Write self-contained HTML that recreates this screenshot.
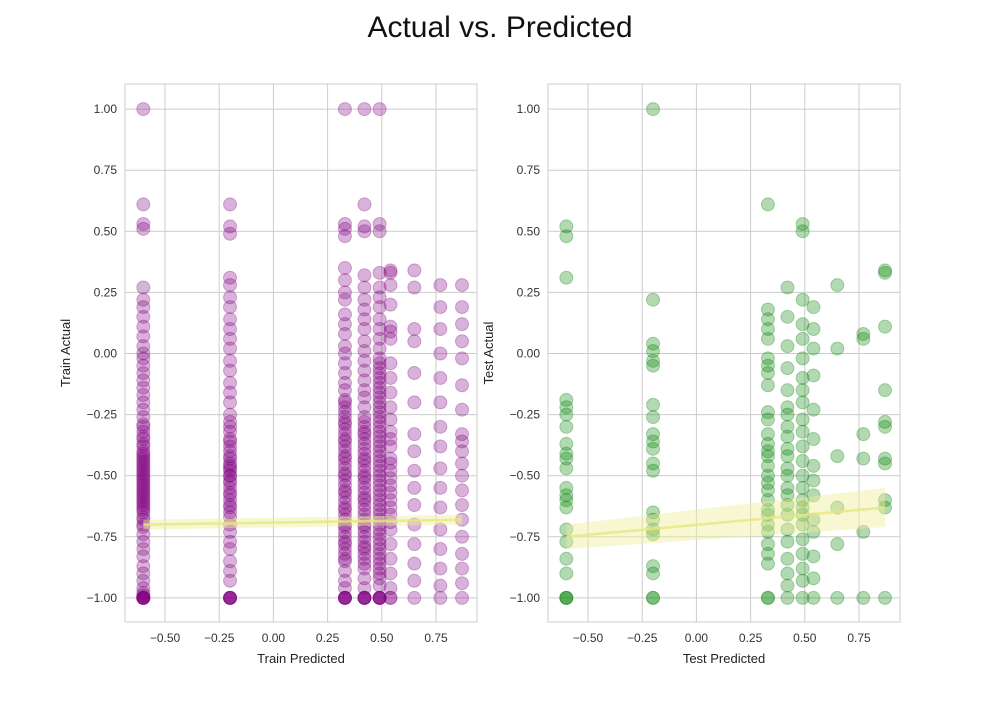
<!DOCTYPE html>
<html><head><meta charset="utf-8"><style>
body{margin:0;background:#fff;font-family:"Liberation Sans",sans-serif}
</style></head><body>
<svg id="c" width="1000" height="700" xmlns="http://www.w3.org/2000/svg" style="font-family:'Liberation Sans',sans-serif">
<text x="500" y="37" font-size="30" text-anchor="middle" fill="#111">Actual vs. Predicted</text>
</svg>
<script>
const xTicks=[-0.5,-0.25,0,0.25,0.5,0.75];
const yTicks=[1,0.75,0.5,0.25,0,-0.25,-0.5,-0.75,-1];
const tickLabels=["1.00","0.75","0.50","0.25","0.00","−0.25","−0.50","−0.75","−1.00"];
const xTickLabels=["−0.50","−0.25","0.00","0.25","0.50","0.75"];
const trainCols=[-0.6,-0.2,0.33,0.42,0.49,0.54,0.65,0.77,0.87];
const trainVals=[
[1,0.61,0.53,0.51,0.27,0.22,0.19,0.15,0.11,0.07,0.03,0,-0.02,-0.05,-0.08,-0.11,-0.14,-0.17,-0.2,-0.23,-0.26,-0.29,-0.32,-0.35,-0.38,-0.41,-0.44,-0.47,-0.5,-0.53,-0.56,-0.59,-0.62,-0.65,-0.68,-0.71,-0.74,-0.77,-0.8,-0.83,-0.87,-0.9,-0.93,-0.96,-1,-1,-1,-0.3,-0.34,-0.37,-0.4,-0.43,-0.46,-0.49,-0.52,-0.55,-0.58,-0.61,-0.64,-0.67,-0.7,-0.42,-0.45,-0.48,-0.51,-0.54,-0.57,-0.6,-0.63,-1,-1,-1,-0.99,-0.98],
[0.61,0.52,0.49,0.31,0.28,0.23,0.19,0.14,0.1,0.06,0.02,-0.03,-0.07,-0.12,-0.16,-0.2,-0.25,-0.28,-0.32,-0.36,-0.4,-0.43,-0.46,-0.5,-0.53,-0.57,-0.6,-0.63,-0.67,-0.7,-0.73,-0.77,-0.8,-0.85,-0.89,-0.93,-1,-1,-0.38,-0.42,-0.45,-0.48,-0.52,-0.55,-0.58,-0.62,-0.65,-0.3,-0.35,-0.5,-0.47,-1,-1,-1],
[1,0.53,0.51,0.48,0.35,0.3,0.25,0.22,0.16,0.12,0.08,0.03,0,-0.04,-0.08,-0.12,-0.15,-0.19,-0.22,-0.26,-0.29,-0.33,-0.36,-0.4,-0.43,-0.47,-0.5,-0.54,-0.57,-0.61,-0.64,-0.68,-0.71,-0.75,-0.78,-0.82,-0.85,-0.89,-0.93,-0.96,-1,-1,-0.28,-0.31,-0.35,-0.38,-0.42,-0.45,-0.49,-0.52,-0.56,-0.59,-0.63,-0.66,-0.7,-0.73,-0.77,-0.8,-0.84,-0.2,-0.24,-1,-1,-1],
[1,0.61,0.52,0.5,0.32,0.27,0.22,0.18,0.14,0.1,0.05,0.01,-0.03,-0.07,-0.11,-0.15,-0.18,-0.22,-0.26,-0.3,-0.33,-0.37,-0.41,-0.44,-0.48,-0.51,-0.55,-0.59,-0.62,-0.66,-0.7,-0.73,-0.77,-0.8,-0.84,-0.88,-0.92,-0.96,-1,-1,-0.28,-0.32,-0.35,-0.39,-0.43,-0.46,-0.5,-0.53,-0.57,-0.6,-0.64,-0.68,-0.71,-0.75,-0.79,-0.82,-0.86,-1,-1,-1],
[1,0.53,0.5,0.33,0.27,0.23,0.19,0.14,0.1,0.06,0.02,-0.02,-0.06,-0.1,-0.14,-0.18,-0.22,-0.26,-0.3,-0.34,-0.38,-0.42,-0.46,-0.5,-0.54,-0.58,-0.62,-0.66,-0.7,-0.74,-0.78,-0.82,-0.86,-0.9,-0.95,-1,-1,-0.04,-0.08,-0.12,-0.16,-0.2,-0.24,-0.28,-0.32,-0.36,-0.4,-0.44,-0.48,-0.52,-0.56,-0.6,-0.64,-0.68,-0.72,-0.76,-0.8,-0.84,-0.88,-0.92,-1,-1,-1],
[0.34,0.33,0.28,0.2,0.11,0.09,0.06,-0.04,-0.1,-0.16,-0.22,-0.27,-0.32,-0.38,-0.43,-0.48,-0.54,-0.6,-0.66,-0.72,-0.78,-0.84,-0.9,-0.96,-1,-0.35,-0.45,-0.51,-0.57,-0.63,-0.69,-1],
[0.34,0.27,0.1,0.05,-0.08,-0.2,-0.33,-0.4,-0.48,-0.55,-0.62,-0.7,-0.78,-0.86,-0.93,-1],
[0.28,0.19,0.1,0,-0.1,-0.2,-0.3,-0.38,-0.47,-0.55,-0.63,-0.72,-0.8,-0.88,-0.95,-1],
[0.28,0.19,0.12,0.05,-0.02,-0.13,-0.23,-0.33,-0.36,-0.4,-0.45,-0.5,-0.56,-0.62,-0.68,-0.75,-0.82,-0.88,-0.94,-1]];
const testCols=[-0.6,-0.2,0.33,0.42,0.49,0.54,0.65,0.77,0.87];
const testVals=[
[0.52,0.48,0.31,-0.19,-0.22,-0.25,-0.3,-0.37,-0.41,-0.43,-0.47,-0.55,-0.58,-0.6,-0.63,-0.72,-0.77,-0.84,-0.9,-1,-1,-1],
[1,0.22,0.04,0.01,-0.03,-0.05,-0.21,-0.26,-0.33,-0.36,-0.39,-0.45,-0.48,-0.65,-0.68,-0.72,-0.74,-0.87,-0.9,-1,-1],
[0.61,0.18,0.14,0.1,0.06,-0.02,-0.05,-0.08,-0.13,-0.24,-0.27,-0.33,-0.37,-0.4,-0.42,-0.46,-0.5,-0.53,-0.56,-0.6,-0.64,-0.66,-0.7,-0.73,-0.78,-0.82,-0.86,-1,-1],
[0.27,0.15,0.03,-0.06,-0.15,-0.22,-0.25,-0.3,-0.34,-0.39,-0.42,-0.47,-0.5,-0.55,-0.58,-0.62,-0.66,-0.72,-0.77,-0.84,-0.9,-0.95,-1],
[0.53,0.5,0.22,0.12,0.06,-0.02,-0.1,-0.15,-0.2,-0.27,-0.32,-0.38,-0.44,-0.5,-0.55,-0.6,-0.63,-0.66,-0.7,-0.76,-0.82,-0.88,-0.93,-1],
[0.19,0.1,0.02,-0.09,-0.23,-0.35,-0.46,-0.52,-0.58,-0.68,-0.73,-0.83,-0.92,-1],
[0.28,0.02,-0.42,-0.63,-0.78,-1],
[0.08,0.06,-0.33,-0.43,-0.73,-1],
[0.34,0.33,0.11,-0.15,-0.28,-0.3,-0.45,-0.43,-0.6,-0.63,-1]];
const trainFit=[-0.70,-0.68]; const trainBand=[0.02,0.02];
const testFit=[-0.75,-0.63]; const testBand=[0.05,0.08];
const fitX=[-0.6,0.87];

const NS="http://www.w3.org/2000/svg", svg=document.getElementById('c');
function mk(t,a,p){const e=document.createElementNS(NS,t);for(const k in a)e.setAttribute(k,a[k]);(p||svg).appendChild(e);return e;}
function panel(x0,name,cols,vals,color,fit,band,xl,yl){
  const L=x0,R=x0+352,T=84,B=622;
  const sx=v=>L+148.4+v*216.8, sy=v=>353.5-v*244.4;
  const g=mk('g',{});
  
  
  xTicks.forEach((t,i)=>{const l=mk('line',{x1:sx(t),x2:sx(t),y1:T,y2:B,stroke:'#ccc','stroke-width':1},g);
    
    const tx=mk('text',{x:sx(t),y:B+20,'font-size':12,'text-anchor':'middle',fill:'#333'},g);tx.textContent=xTickLabels[i];
    });
  yTicks.forEach((t,i)=>{const l=mk('line',{x1:L,x2:R,y1:sy(t),y2:sy(t),stroke:'#ccc','stroke-width':1},g);
    
    const tx=mk('text',{x:L-8,y:sy(t)+4,'font-size':12,'text-anchor':'end',fill:'#333'},g);tx.textContent=tickLabels[i];
    });
  const fr=mk('rect',{x:L,y:T,width:352,height:538,fill:'none',stroke:'#ccc'},g);
  
  cols.forEach((c,i)=>vals[i].forEach(v=>{const p=mk('circle',{cx:sx(c),cy:sy(v),r:6.5,fill:color,'fill-opacity':0.3,stroke:color,'stroke-opacity':0.3},g);
    }));
  const pts=[[fitX[0],fit[0]+band[0]],[fitX[1],fit[1]+band[1]],[fitX[1],fit[1]-band[1]],[fitX[0],fit[0]-band[0]]];
  const bd=mk('polygon',{points:pts.map(p=>sx(p[0])+','+sy(p[1])).join(' '),fill:'#eeee99','fill-opacity':0.45},g);
  
  const ln=mk('line',{x1:sx(fitX[0]),y1:sy(fit[0]),x2:sx(fitX[1]),y2:sy(fit[1]),stroke:'#e6e680','stroke-width':2.5,'stroke-opacity':0.8},g);
  
  const xt=mk('text',{x:(L+R)/2,y:663,'font-size':13,'text-anchor':'middle',fill:'#222'},g);xt.textContent=xl;
  
  const yt=mk('text',{x:0,y:0,'font-size':13,'text-anchor':'middle',fill:'#222',transform:`translate(${L-55},353) rotate(-90)`},g);yt.textContent=yl;
  
}
panel(125,'train',trainCols,trainVals,'#800080',trainFit,trainBand,'Train Predicted','Train Actual');
panel(548,'test',testCols,testVals,'#008000',testFit,testBand,'Test Predicted','Test Actual');
</script>
</body></html>
